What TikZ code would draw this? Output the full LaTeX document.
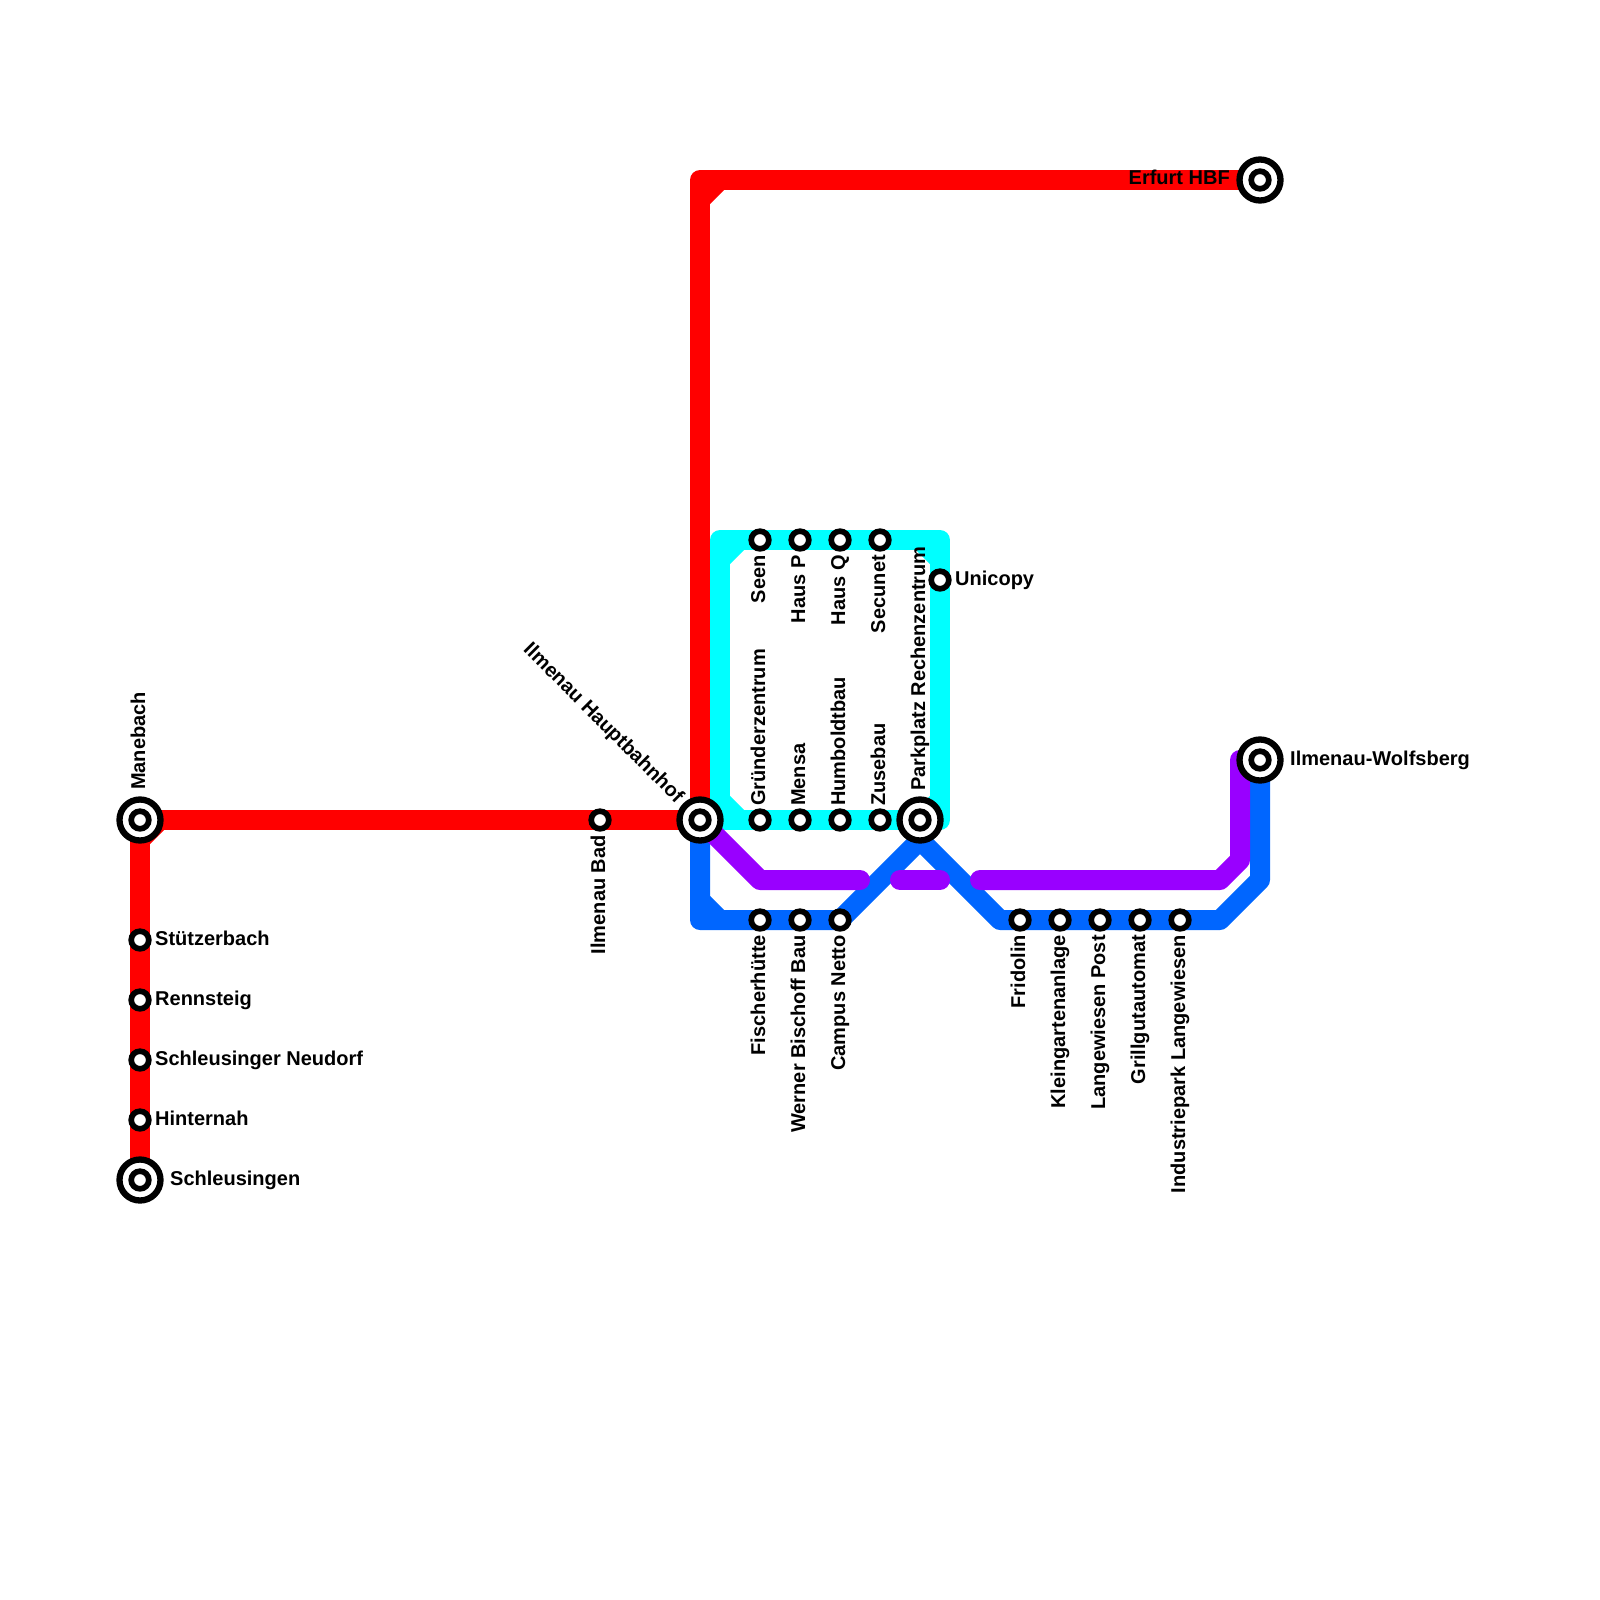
\documentclass[tikz,border=0pt]{standalone}
\usepackage{fontspec}
\setmainfont{Liberation Sans}[BoldFont=Liberation Sans Bold]
\usetikzlibrary{backgrounds}
\tikzset{
  metroline/.style={line width=20pt,line join=round},
  stop/.style={circle,draw=black,fill=white,line width=5.7pt,minimum size=17.6pt,inner sep=0pt},
  terminalring/.style={circle,draw=black,fill=white,line width=6.3pt,minimum size=41pt,inner sep=0pt},
  stoplabel/.style={font=\bfseries\fontsize{20}{22}\selectfont,inner sep=0pt},
  below label/.style={stoplabel,rotate=90,anchor=base east},
  above label/.style={stoplabel,rotate=90,anchor=base west},
  side label/.style={stoplabel,anchor=base west}
}
\definecolor{linered}{RGB}{255,0,0}
\definecolor{linecyan}{RGB}{0,255,255}
\definecolor{lineblue}{RGB}{0,102,255}
\definecolor{linepurple}{RGB}{153,0,255}
\begin{document}
\begin{tikzpicture}[x=1pt,y=-1pt]
\useasboundingbox (0,0) rectangle (1600,1600);
% terminals
\node (manebach) [terminalring] at (140,820) {};
\node (schleusingen) [terminalring] at (140,1180) {};
\node (hbf) [terminalring] at (700,820) {};
\node (parkplatz) [terminalring] at (920,820) {};
\node (erfurt) [terminalring] at (1260,180) {};
\node (wolfsberg) [terminalring] at (1260,760) {};
\node (manebachhub) [stop] at (manebach) {};
\node (schleusingenhub) [stop] at (schleusingen) {};
\node (hbfhub) [stop] at (hbf) {};
\node (parkplatzhub) [stop] at (parkplatz) {};
\node (erfurthub) [stop] at (erfurt) {};
\node (wolfsberghub) [stop] at (wolfsberg) {};
% stops
\node (stuetzerbach) [stop] at (140,940) {};
\node (rennsteig) [stop] at (140,1000) {};
\node (neudorf) [stop] at (140,1060) {};
\node (hinternah) [stop] at (140,1120) {};
\node (bad) [stop] at (600,820) {};
\node (seen) [stop] at (760,540) {};
\node (hausp) [stop] at (800,540) {};
\node (hausq) [stop] at (840,540) {};
\node (secunet) [stop] at (880,540) {};
\node (unicopy) [stop] at (940,580) {};
\node (gruender) [stop] at (760,820) {};
\node (mensa) [stop] at (800,820) {};
\node (humboldt) [stop] at (840,820) {};
\node (zuse) [stop] at (880,820) {};
\node (fischer) [stop] at (760,920) {};
\node (bischoff) [stop] at (800,920) {};
\node (netto) [stop] at (840,920) {};
\node (fridolin) [stop] at (1020,920) {};
\node (kleingarten) [stop] at (1060,920) {};
\node (post) [stop] at (1100,920) {};
\node (grill) [stop] at (1140,920) {};
\node (industrie) [stop] at (1180,920) {};
% corners
\coordinate (redtop) at (700,180);
\coordinate (cyansw) at (720,820);
\coordinate (cyannw) at (720,540);
\coordinate (cyanne) at (940,540);
\coordinate (cyanse) at (940,820);
\coordinate (bluesw) at (700,920);
\coordinate (blueapex) at (920,840);
\coordinate (bluelow) at (1000,920);
\coordinate (blueout) at (1220,920);
\coordinate (blueup) at (1260,880);
\coordinate (purplea) at (760,880);
\coordinate (purpleb) at (860,880);
\coordinate (purplec) at (900,880);
\coordinate (purpled) at (940,880);
\coordinate (purplee) at (980,880);
\coordinate (purplef) at (1220,880);
\coordinate (purpleg) at (1240,860);
\coordinate (purpleh) at (1240,760);
% lines
\begin{pgfonlayer}{background}
\draw [metroline,linered] (schleusingen.center) -- (manebach.center) -- (hbf.center);
\draw [metroline,linered] (hbf.center) -- (redtop) -- (erfurt.center);
\draw [metroline,linered] (redtop) ++(0,20) -- ++(20,-20);
\draw [metroline,linered] (manebach.center) ++(0,20) -- ++(20,-20);
\draw [metroline,linecyan] (cyansw) -- (cyannw) -- (cyanne) -- (cyanse) -- cycle;
\draw [metroline,linecyan] (cyansw) ++(0,-20) -- ++(20,20);
\draw [metroline,linecyan] (cyannw) ++(0,20) -- ++(20,-20);
\draw [metroline,linecyan] (cyanne) ++(0,20) -- ++(-20,-20);
\draw [metroline,linecyan] (cyanse) ++(0,-20) -- ++(-20,20);
\draw [metroline,lineblue] (hbf.center) -- (bluesw) -- (netto.center) -- (blueapex) -- (bluelow) -- (blueout) -- (blueup) -- (wolfsberg.center);
\draw [metroline,lineblue] (bluesw) ++(0,-20) -- ++(20,20);
\draw [metroline,linepurple,line cap=round] (hbf.center) -- (purplea) -- (purpleb);
\draw [metroline,linepurple,line cap=round] (purplec) -- (purpled);
\draw [metroline,linepurple,line cap=round] (purplee) -- (purplef) -- (purpleg) -- (purpleh);
\end{pgfonlayer}
% labels
\node (manebachlabel) [above label] at (145,790) {Manebach};
\node (stuetzerbachlabel) [side label] at (155,945) {Stützerbach};
\node (rennsteiglabel) [side label] at (155,1005) {Rennsteig};
\node (neudorflabel) [side label] at (155,1065) {Schleusinger Neudorf};
\node (hinternahlabel) [side label] at (155,1125) {Hinternah};
\node (schleusingenlabel) [side label] at (170,1185) {Schleusingen};
\node (badlabel) [below label] at (605,835) {Ilmenau Bad};
\node (hbflabel) [stoplabel,rotate=-45,anchor=base east] at (676,804) {Ilmenau Hauptbahnhof};
\node (erfurtlabel) [stoplabel,anchor=base east] at (1230,184) {Erfurt HBF};
\node (wolfsberglabel) [side label] at (1290,765) {Ilmenau-Wolfsberg};
\node (unicopylabel) [side label] at (955,585) {Unicopy};
\node (seenlabel) [below label] at (765,555) {Seen};
\node (hausplabel) [below label] at (805,555) {Haus P};
\node (hausqlabel) [below label] at (845,555) {Haus Q};
\node (secunetlabel) [below label] at (885,555) {Secunet};
\node (gruenderlabel) [above label] at (765,806) {Gründerzentrum};
\node (mensalabel) [above label] at (805,806) {Mensa};
\node (humboldtlabel) [above label] at (845,806) {Humboldtbau};
\node (zuselabel) [above label] at (885,806) {Zusebau};
\node (parkplatzlabel) [above label] at (925,791) {Parkplatz Rechenzentrum};
\node (fischerlabel) [below label] at (765,935) {Fischerhütte};
\node (bischofflabel) [below label] at (805,935) {Werner Bischoff Bau};
\node (nettolabel) [below label] at (845,935) {Campus Netto};
\node (fridolinlabel) [below label] at (1025,935) {Fridolin};
\node (kleingartenlabel) [below label] at (1065,935) {Kleingartenanlage};
\node (postlabel) [below label] at (1105,935) {Langewiesen Post};
\node (grilllabel) [below label] at (1145,935) {Grillgutautomat};
\node (industrielabel) [below label] at (1185,935) {Industriepark Langewiesen};
\end{tikzpicture}
\end{document}
